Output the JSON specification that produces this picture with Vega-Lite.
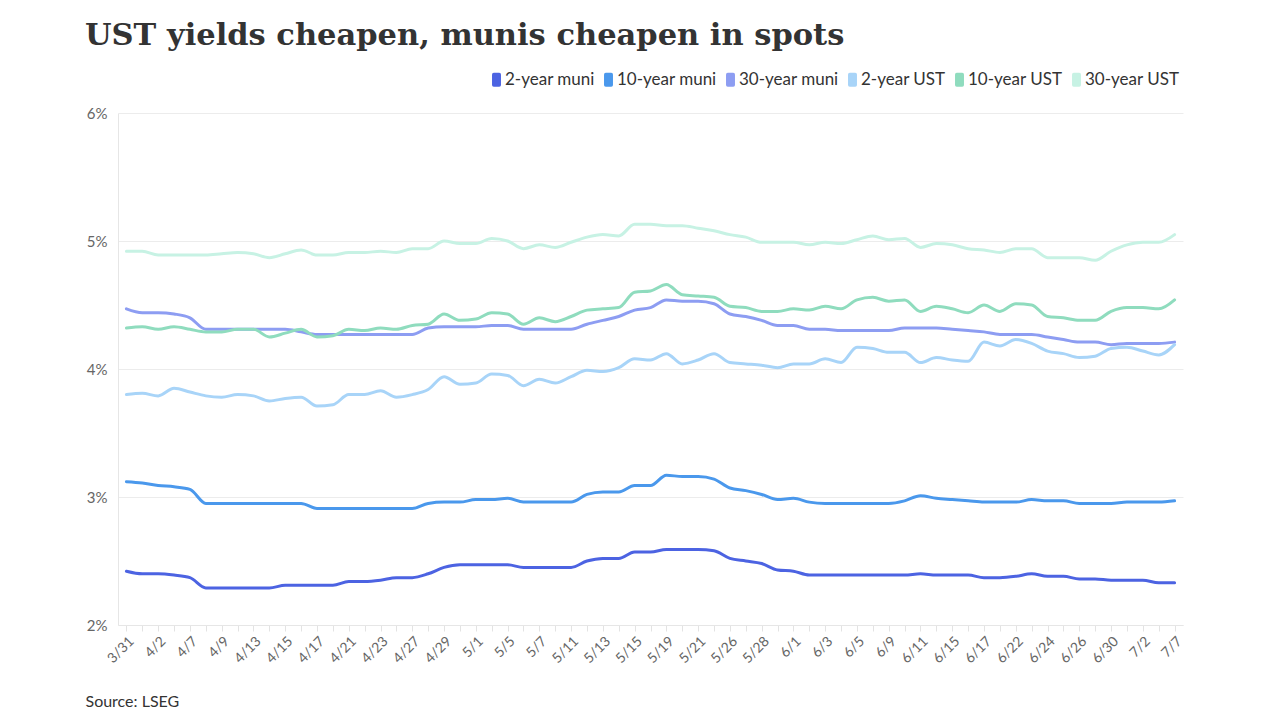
{
  "$schema": "https://vega.github.io/schema/vega-lite/v6.json",
  "width": 1065,
  "height": 512,
  "autosize": {"type": "none"},
  "padding": {"left": 118, "top": 113, "right": 97, "bottom": 95},
  "background": "#ffffff",
  "title": {
    "text": "UST yields cheapen, munis cheapen in spots",
    "anchor": "start",
    "frame": "group",
    "font": "DejaVu Serif",
    "fontSize": 30.5,
    "fontWeight": "bold",
    "color": "#333333",
    "baseline": "alphabetic",
    "dx": -33,
    "dy": 4,
    "offset": 0
  },
  "config": {
    "view": {"stroke": null},
    "font": "Lato"
  },
  "data": {
    "values": [
      {"d": "3/31", "2-year muni": 2.42, "10-year muni": 3.12, "30-year muni": 4.47, "2-year UST": 3.80, "10-year UST": 4.32, "30-year UST": 4.92},
      {"d": "4/1", "2-year muni": 2.40, "10-year muni": 3.11, "30-year muni": 4.44, "2-year UST": 3.81, "10-year UST": 4.33, "30-year UST": 4.92},
      {"d": "4/2", "2-year muni": 2.40, "10-year muni": 3.09, "30-year muni": 4.44, "2-year UST": 3.79, "10-year UST": 4.31, "30-year UST": 4.89},
      {"d": "4/6", "2-year muni": 2.39, "10-year muni": 3.08, "30-year muni": 4.43, "2-year UST": 3.85, "10-year UST": 4.33, "30-year UST": 4.89},
      {"d": "4/7", "2-year muni": 2.37, "10-year muni": 3.06, "30-year muni": 4.40, "2-year UST": 3.82, "10-year UST": 4.31, "30-year UST": 4.89},
      {"d": "4/8", "2-year muni": 2.29, "10-year muni": 2.95, "30-year muni": 4.31, "2-year UST": 3.79, "10-year UST": 4.29, "30-year UST": 4.89},
      {"d": "4/9", "2-year muni": 2.29, "10-year muni": 2.95, "30-year muni": 4.31, "2-year UST": 3.78, "10-year UST": 4.29, "30-year UST": 4.90},
      {"d": "4/10", "2-year muni": 2.29, "10-year muni": 2.95, "30-year muni": 4.31, "2-year UST": 3.80, "10-year UST": 4.31, "30-year UST": 4.91},
      {"d": "4/13", "2-year muni": 2.29, "10-year muni": 2.95, "30-year muni": 4.31, "2-year UST": 3.79, "10-year UST": 4.31, "30-year UST": 4.90},
      {"d": "4/14", "2-year muni": 2.29, "10-year muni": 2.95, "30-year muni": 4.31, "2-year UST": 3.75, "10-year UST": 4.25, "30-year UST": 4.87},
      {"d": "4/15", "2-year muni": 2.31, "10-year muni": 2.95, "30-year muni": 4.31, "2-year UST": 3.77, "10-year UST": 4.28, "30-year UST": 4.90},
      {"d": "4/16", "2-year muni": 2.31, "10-year muni": 2.95, "30-year muni": 4.29, "2-year UST": 3.78, "10-year UST": 4.31, "30-year UST": 4.93},
      {"d": "4/17", "2-year muni": 2.31, "10-year muni": 2.91, "30-year muni": 4.27, "2-year UST": 3.71, "10-year UST": 4.25, "30-year UST": 4.89},
      {"d": "4/20", "2-year muni": 2.31, "10-year muni": 2.91, "30-year muni": 4.27, "2-year UST": 3.72, "10-year UST": 4.26, "30-year UST": 4.89},
      {"d": "4/21", "2-year muni": 2.34, "10-year muni": 2.91, "30-year muni": 4.27, "2-year UST": 3.80, "10-year UST": 4.31, "30-year UST": 4.91},
      {"d": "4/22", "2-year muni": 2.34, "10-year muni": 2.91, "30-year muni": 4.27, "2-year UST": 3.80, "10-year UST": 4.30, "30-year UST": 4.91},
      {"d": "4/23", "2-year muni": 2.35, "10-year muni": 2.91, "30-year muni": 4.27, "2-year UST": 3.83, "10-year UST": 4.32, "30-year UST": 4.92},
      {"d": "4/24", "2-year muni": 2.37, "10-year muni": 2.91, "30-year muni": 4.27, "2-year UST": 3.78, "10-year UST": 4.31, "30-year UST": 4.91},
      {"d": "4/27", "2-year muni": 2.37, "10-year muni": 2.91, "30-year muni": 4.27, "2-year UST": 3.80, "10-year UST": 4.34, "30-year UST": 4.94},
      {"d": "4/28", "2-year muni": 2.40, "10-year muni": 2.95, "30-year muni": 4.32, "2-year UST": 3.84, "10-year UST": 4.35, "30-year UST": 4.94},
      {"d": "4/29", "2-year muni": 2.45, "10-year muni": 2.96, "30-year muni": 4.33, "2-year UST": 3.94, "10-year UST": 4.43, "30-year UST": 5.00},
      {"d": "4/30", "2-year muni": 2.47, "10-year muni": 2.96, "30-year muni": 4.33, "2-year UST": 3.88, "10-year UST": 4.38, "30-year UST": 4.98},
      {"d": "5/1", "2-year muni": 2.47, "10-year muni": 2.98, "30-year muni": 4.33, "2-year UST": 3.89, "10-year UST": 4.39, "30-year UST": 4.98},
      {"d": "5/4", "2-year muni": 2.47, "10-year muni": 2.98, "30-year muni": 4.34, "2-year UST": 3.96, "10-year UST": 4.44, "30-year UST": 5.02},
      {"d": "5/5", "2-year muni": 2.47, "10-year muni": 2.99, "30-year muni": 4.34, "2-year UST": 3.95, "10-year UST": 4.43, "30-year UST": 5.00},
      {"d": "5/6", "2-year muni": 2.45, "10-year muni": 2.96, "30-year muni": 4.31, "2-year UST": 3.87, "10-year UST": 4.35, "30-year UST": 4.94},
      {"d": "5/7", "2-year muni": 2.45, "10-year muni": 2.96, "30-year muni": 4.31, "2-year UST": 3.92, "10-year UST": 4.40, "30-year UST": 4.97},
      {"d": "5/8", "2-year muni": 2.45, "10-year muni": 2.96, "30-year muni": 4.31, "2-year UST": 3.89, "10-year UST": 4.37, "30-year UST": 4.95},
      {"d": "5/11", "2-year muni": 2.45, "10-year muni": 2.96, "30-year muni": 4.31, "2-year UST": 3.94, "10-year UST": 4.41, "30-year UST": 4.99},
      {"d": "5/12", "2-year muni": 2.50, "10-year muni": 3.02, "30-year muni": 4.35, "2-year UST": 3.99, "10-year UST": 4.46, "30-year UST": 5.03},
      {"d": "5/13", "2-year muni": 2.52, "10-year muni": 3.04, "30-year muni": 4.38, "2-year UST": 3.98, "10-year UST": 4.47, "30-year UST": 5.05},
      {"d": "5/14", "2-year muni": 2.52, "10-year muni": 3.04, "30-year muni": 4.41, "2-year UST": 4.01, "10-year UST": 4.48, "30-year UST": 5.04},
      {"d": "5/15", "2-year muni": 2.57, "10-year muni": 3.09, "30-year muni": 4.46, "2-year UST": 4.08, "10-year UST": 4.60, "30-year UST": 5.13},
      {"d": "5/18", "2-year muni": 2.57, "10-year muni": 3.09, "30-year muni": 4.48, "2-year UST": 4.07, "10-year UST": 4.61, "30-year UST": 5.13},
      {"d": "5/19", "2-year muni": 2.59, "10-year muni": 3.17, "30-year muni": 4.54, "2-year UST": 4.12, "10-year UST": 4.66, "30-year UST": 5.12},
      {"d": "5/20", "2-year muni": 2.59, "10-year muni": 3.16, "30-year muni": 4.53, "2-year UST": 4.04, "10-year UST": 4.58, "30-year UST": 5.12},
      {"d": "5/21", "2-year muni": 2.59, "10-year muni": 3.16, "30-year muni": 4.53, "2-year UST": 4.07, "10-year UST": 4.57, "30-year UST": 5.10},
      {"d": "5/22", "2-year muni": 2.58, "10-year muni": 3.14, "30-year muni": 4.51, "2-year UST": 4.12, "10-year UST": 4.56, "30-year UST": 5.08},
      {"d": "5/26", "2-year muni": 2.52, "10-year muni": 3.07, "30-year muni": 4.43, "2-year UST": 4.05, "10-year UST": 4.49, "30-year UST": 5.05},
      {"d": "5/27", "2-year muni": 2.50, "10-year muni": 3.05, "30-year muni": 4.41, "2-year UST": 4.04, "10-year UST": 4.48, "30-year UST": 5.03},
      {"d": "5/28", "2-year muni": 2.48, "10-year muni": 3.02, "30-year muni": 4.38, "2-year UST": 4.03, "10-year UST": 4.45, "30-year UST": 4.99},
      {"d": "5/29", "2-year muni": 2.43, "10-year muni": 2.98, "30-year muni": 4.34, "2-year UST": 4.01, "10-year UST": 4.45, "30-year UST": 4.99},
      {"d": "6/1", "2-year muni": 2.42, "10-year muni": 2.99, "30-year muni": 4.34, "2-year UST": 4.04, "10-year UST": 4.47, "30-year UST": 4.99},
      {"d": "6/2", "2-year muni": 2.39, "10-year muni": 2.96, "30-year muni": 4.31, "2-year UST": 4.04, "10-year UST": 4.46, "30-year UST": 4.97},
      {"d": "6/3", "2-year muni": 2.39, "10-year muni": 2.95, "30-year muni": 4.31, "2-year UST": 4.08, "10-year UST": 4.49, "30-year UST": 4.99},
      {"d": "6/4", "2-year muni": 2.39, "10-year muni": 2.95, "30-year muni": 4.30, "2-year UST": 4.05, "10-year UST": 4.47, "30-year UST": 4.98},
      {"d": "6/5", "2-year muni": 2.39, "10-year muni": 2.95, "30-year muni": 4.30, "2-year UST": 4.17, "10-year UST": 4.54, "30-year UST": 5.01},
      {"d": "6/8", "2-year muni": 2.39, "10-year muni": 2.95, "30-year muni": 4.30, "2-year UST": 4.16, "10-year UST": 4.56, "30-year UST": 5.04},
      {"d": "6/9", "2-year muni": 2.39, "10-year muni": 2.95, "30-year muni": 4.30, "2-year UST": 4.13, "10-year UST": 4.53, "30-year UST": 5.01},
      {"d": "6/10", "2-year muni": 2.39, "10-year muni": 2.97, "30-year muni": 4.32, "2-year UST": 4.13, "10-year UST": 4.54, "30-year UST": 5.02},
      {"d": "6/11", "2-year muni": 2.40, "10-year muni": 3.01, "30-year muni": 4.32, "2-year UST": 4.05, "10-year UST": 4.45, "30-year UST": 4.95},
      {"d": "6/12", "2-year muni": 2.39, "10-year muni": 2.99, "30-year muni": 4.32, "2-year UST": 4.09, "10-year UST": 4.49, "30-year UST": 4.98},
      {"d": "6/15", "2-year muni": 2.39, "10-year muni": 2.98, "30-year muni": 4.31, "2-year UST": 4.07, "10-year UST": 4.47, "30-year UST": 4.97},
      {"d": "6/16", "2-year muni": 2.39, "10-year muni": 2.97, "30-year muni": 4.30, "2-year UST": 4.06, "10-year UST": 4.44, "30-year UST": 4.94},
      {"d": "6/17", "2-year muni": 2.37, "10-year muni": 2.96, "30-year muni": 4.29, "2-year UST": 4.21, "10-year UST": 4.50, "30-year UST": 4.93},
      {"d": "6/18", "2-year muni": 2.37, "10-year muni": 2.96, "30-year muni": 4.27, "2-year UST": 4.18, "10-year UST": 4.45, "30-year UST": 4.91},
      {"d": "6/22", "2-year muni": 2.38, "10-year muni": 2.96, "30-year muni": 4.27, "2-year UST": 4.23, "10-year UST": 4.51, "30-year UST": 4.94},
      {"d": "6/23", "2-year muni": 2.40, "10-year muni": 2.98, "30-year muni": 4.27, "2-year UST": 4.20, "10-year UST": 4.50, "30-year UST": 4.94},
      {"d": "6/24", "2-year muni": 2.38, "10-year muni": 2.97, "30-year muni": 4.25, "2-year UST": 4.14, "10-year UST": 4.41, "30-year UST": 4.87},
      {"d": "6/25", "2-year muni": 2.38, "10-year muni": 2.97, "30-year muni": 4.23, "2-year UST": 4.12, "10-year UST": 4.40, "30-year UST": 4.87},
      {"d": "6/26", "2-year muni": 2.36, "10-year muni": 2.95, "30-year muni": 4.21, "2-year UST": 4.09, "10-year UST": 4.38, "30-year UST": 4.87},
      {"d": "6/29", "2-year muni": 2.36, "10-year muni": 2.95, "30-year muni": 4.21, "2-year UST": 4.10, "10-year UST": 4.38, "30-year UST": 4.85},
      {"d": "6/30", "2-year muni": 2.35, "10-year muni": 2.95, "30-year muni": 4.19, "2-year UST": 4.16, "10-year UST": 4.45, "30-year UST": 4.92},
      {"d": "7/1", "2-year muni": 2.35, "10-year muni": 2.96, "30-year muni": 4.20, "2-year UST": 4.17, "10-year UST": 4.48, "30-year UST": 4.97},
      {"d": "7/2", "2-year muni": 2.35, "10-year muni": 2.96, "30-year muni": 4.20, "2-year UST": 4.14, "10-year UST": 4.48, "30-year UST": 4.99},
      {"d": "7/6", "2-year muni": 2.33, "10-year muni": 2.96, "30-year muni": 4.20, "2-year UST": 4.11, "10-year UST": 4.47, "30-year UST": 4.99},
      {"d": "7/7", "2-year muni": 2.33, "10-year muni": 2.97, "30-year muni": 4.21, "2-year UST": 4.19, "10-year UST": 4.54, "30-year UST": 5.05}
    ]
  },
  "transform": [
    {"fold": ["2-year muni", "10-year muni", "30-year muni", "2-year UST", "10-year UST", "30-year UST"], "as": ["series", "yield"]}
  ],
  "mark": {"type": "line", "interpolate": "monotone", "strokeWidth": 3, "strokeCap": "round", "strokeJoin": "round"},
  "encoding": {
    "x": {
      "field": "d",
      "type": "ordinal",
      "sort": null,
      "scale": {"type": "point", "padding": 0.53},
      "axis": {
        "title": "Source: LSEG",
        "titleAnchor": "start",
        "titleAlign": "left",
        "titleBaseline": "alphabetic",
        "titleX": -33,
        "titleY": 81,
        "titleFont": "Lato",
        "titleFontSize": 16,
        "titleFontWeight": "normal",
        "titleColor": "#333333",
        "labelAngle": -45,
        "labelFont": "Lato",
        "labelFontSize": 14,
        "labelColor": "#666666",
        "labelPadding": 3,
        "labelOverlap": false,
        "labelExpr": "indexof(['3/31','4/2','4/7','4/9','4/13','4/15','4/17','4/21','4/23','4/27','4/29','5/1','5/5','5/7','5/11','5/13','5/15','5/19','5/21','5/26','5/28','6/1','6/3','6/5','6/9','6/11','6/15','6/17','6/22','6/24','6/26','6/30','7/2','7/7'], datum.value) >= 0 ? datum.label : ''",
        "tickColor": "#e3e3e3",
        "tickSize": 6,
        "domainColor": "#e6e6e6",
        "grid": false
      }
    },
    "y": {
      "field": "yield",
      "type": "quantitative",
      "scale": {"domain": [2, 6], "nice": false, "zero": false},
      "axis": {
        "title": null,
        "values": [2, 3, 4, 5, 6],
        "labelExpr": "datum.value + '%'",
        "labelFont": "Lato",
        "labelFontSize": 15,
        "labelColor": "#666666",
        "labelPadding": 11,
        "ticks": false,
        "domain": true,
        "domainColor": "#e6e6e6",
        "gridColor": "#ececec"
      }
    },
    "color": {
      "field": "series",
      "type": "nominal",
      "scale": {
        "domain": ["2-year muni", "10-year muni", "30-year muni", "2-year UST", "10-year UST", "30-year UST"],
        "range": ["#4c63e2", "#4a98ec", "#8d9df2", "#a8d4f8", "#8fdcbe", "#c7f2e4"]
      },
      "legend": {
        "title": null,
        "orient": "none",
        "direction": "horizontal",
        "legendX": 370,
        "legendY": -42,
        "labelFont": "Lato",
        "labelFontSize": 17,
        "labelColor": "#333333",
        "labelOffset": 0,
        "columnPadding": 5,
        "symbolType": "M-0.64,-0.75Q-0.64,-1,-0.39,-1H0.39Q0.64,-1,0.64,-0.75V0.75Q0.64,1,0.39,1H-0.39Q-0.64,1,-0.64,0.75Z",
        "symbolSize": 196,
        "symbolStrokeWidth": 0,
        "symbolOpacity": 1,
        "encode": {
          "symbols": {
            "update": {
              "fill": {"scale": "color", "field": "value"},
              "fillOpacity": {"value": 1},
              "strokeWidth": {"value": 0}
            }
          }
        }
      }
    }
  }
}
